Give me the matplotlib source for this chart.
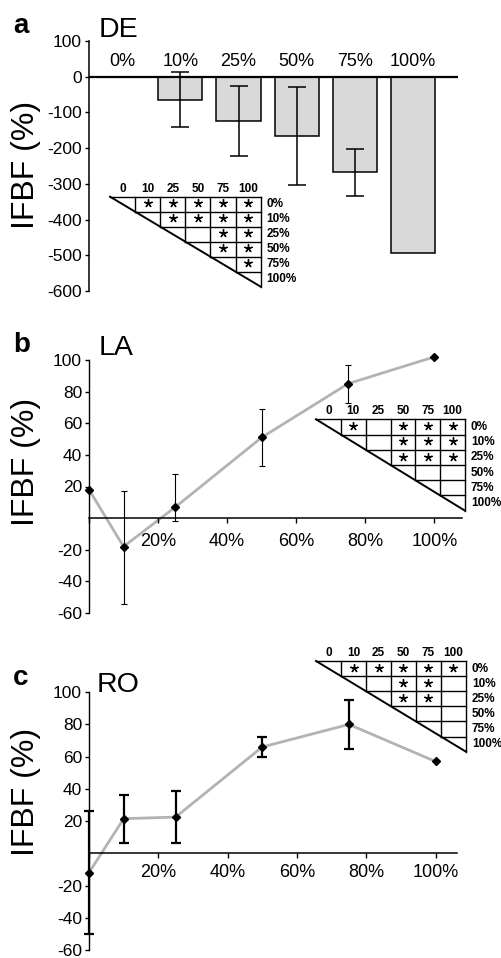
import numpy as np
import matplotlib
matplotlib.use('Agg')
import matplotlib.pyplot as plt

plt.rcParams['font.family'] = ['Liberation Sans', 'DejaVu Sans']
plt.rcParams['axes.unicode_minus'] = False

# ---- data ----
de_labels = ['0%', '10%', '25%', '50%', '75%', '100%']
de_mean = [0, -65, -124, -165, -267, -493]
de_err = [0, 77, 97, 137, 66, 0]

la_x = [0, 10, 25, 50, 75, 100]
la_mean = [18, -18, 7, 51, 85, 102]
la_err_lo = [0, 36, 9, 18, 12, 0]
la_err_hi = [0, 35, 21, 18, 12, 0]

ro_x = [0, 10, 25, 50, 75, 100]
ro_mean = [-12, 21.5, 22.5, 66, 80, 57]
ro_err = [38, 15, 16, 6, 15, 0]

# pairwise significance tables (row = condition, col = comparison)
tab_cols = ['0', '10', '25', '50', '75', '100']
tab_rows = ['0%', '10%', '25%', '50%', '75%', '100%']
de_sig = [[0, 1, 1, 1, 1, 1],
          [0, 0, 1, 1, 1, 1],
          [0, 0, 0, 0, 1, 1],
          [0, 0, 0, 0, 1, 1],
          [0, 0, 0, 0, 0, 1],
          [0, 0, 0, 0, 0, 0]]
la_sig = [[0, 1, 0, 1, 1, 1],
          [0, 0, 0, 1, 1, 1],
          [0, 0, 0, 1, 1, 1],
          [0, 0, 0, 0, 0, 0],
          [0, 0, 0, 0, 0, 0],
          [0, 0, 0, 0, 0, 0]]
ro_sig = [[0, 1, 1, 1, 1, 1],
          [0, 0, 0, 1, 1, 0],
          [0, 0, 0, 1, 1, 0],
          [0, 0, 0, 0, 0, 0],
          [0, 0, 0, 0, 0, 0],
          [0, 0, 0, 0, 0, 0]]

W, H = 501, 958
fig = plt.figure(figsize=(W / 100, H / 100), dpi=100)


def rect(x0, y0, x1, y1):
    # pixel box (top-left origin) -> figure fraction
    return [x0 / W, 1 - y1 / H, (x1 - x0) / W, (y1 - y0) / H]


def ptext(x, y, s, **kw):
    fig.text(x / W, 1 - y / H, s, **kw)


def draw_table(box, sig):
    t = fig.add_axes(rect(*box))
    n = len(tab_cols)
    t.set_xlim(0, n)
    t.set_ylim(n, 0)
    t.axis('off')
    kw = dict(color='black', lw=1.0, clip_on=False, solid_capstyle='projecting')
    t.plot([0, n], [0, 0], **kw)
    t.plot([n, n], [0, n], **kw)
    t.plot([0, n], [0, n], color='black', lw=1.4, clip_on=False)
    for k in range(1, n):
        t.plot([k, k], [0, k], **kw)
        t.plot([k, n], [k, k], **kw)
    for c, lab in enumerate(tab_cols):
        t.text(c + 0.5, -0.33, lab, ha='center', va='baseline',
               fontsize=8.5, fontweight='bold')
    for r, lab in enumerate(tab_rows):
        t.text(n + 0.24, r + 0.5, lab, ha='left', va='center',
               fontsize=8.5, fontweight='bold')
    # significance asterisks
    rr, cc = np.nonzero(np.array(sig))
    t.plot(cc + 0.5, rr + 0.45, linestyle='none', marker=(5, 2, 0),
           color='black', ms=6, mew=1.0, clip_on=False)


def style_line_axes(ax):
    for s in ['top', 'right']:
        ax.spines[s].set_visible(False)
    ax.spines['left'].set_linewidth(1.0)
    ax.spines['bottom'].set_linewidth(1.1)
    ax.spines['bottom'].set_position(('data', 0))
    ax.set_xticks([0, 20, 40, 60, 80, 100])
    ax.set_xticklabels(['', '20%', '40%', '60%', '80%', '100%'])
    ax.set_yticks([-60, -40, -20, 20, 40, 60, 80, 100])
    ax.set_ylim(-60, 100)
    ax.tick_params(axis='y', direction='out', length=3, width=1, labelsize=12.5, pad=2)


# ---- a: DE ----
ax = fig.add_axes(rect(89, 41, 458, 291))
pos = np.arange(len(de_labels))
ax.bar(pos, de_mean, width=0.76, color='#d9d9d9', edgecolor='black', lw=1.1, zorder=2)
m = np.array(de_err) > 0
ax.errorbar(pos[m], np.array(de_mean)[m], yerr=np.array(de_err)[m], fmt='none',
            ecolor='black', elinewidth=1.1, capsize=6.5, capthick=1.1, zorder=3)
ax.axhline(0, color='black', lw=1.6, zorder=4)
ax.set_xlim(-0.57, 5.77)
ax.set_ylim(-600, 100)
for s in ['top', 'right', 'bottom']:
    ax.spines[s].set_visible(False)
ax.spines['left'].set_linewidth(1.1)
ax.set_xticks([])
ax.set_yticks(np.arange(-600, 101, 100))
ax.tick_params(axis='y', direction='out', length=3, width=1, labelsize=12.5, pad=2)
for p, lab in zip(pos, de_labels):
    ax.text(p, 18, lab, ha='center', va='bottom', fontsize=13)
ax.set_ylabel('IFBF (%)', fontsize=23)
ax.yaxis.set_label_coords(41 / W, 1 - 165 / H, transform=fig.transFigure)
draw_table((110, 196.7, 260.7, 286.7), de_sig)
ptext(13, 33, 'a', fontsize=20, fontweight='bold', va='baseline')
ptext(99, 37, 'DE', fontsize=20.5, va='baseline')

# ---- b: LA ----
ax = fig.add_axes(rect(89, 360, 462, 613))
ax.plot(la_x, la_mean, color='#b3b3b3', lw=2.0, zorder=1, clip_on=False)
m = (np.array(la_err_lo) + np.array(la_err_hi)) > 0
ax.errorbar(np.array(la_x)[m], np.array(la_mean)[m],
            yerr=[np.array(la_err_lo)[m], np.array(la_err_hi)[m]], fmt='none',
            ecolor='black', elinewidth=0.8, capsize=2.5, capthick=0.8, zorder=2)
ax.plot(la_x, la_mean, 'D', color='black', ms=4.5, zorder=3, clip_on=False)
ax.set_xlim(0, 108)
style_line_axes(ax)
ax.tick_params(axis='x', direction='out', length=3.5, width=1, labelsize=13, pad=7)
ax.set_ylabel('IFBF (%)', fontsize=23)
ax.yaxis.set_label_coords(41 / W, 1 - 462 / H, transform=fig.transFigure)
draw_table((316, 419.3, 465, 510.7), la_sig)
ptext(13, 352, 'b', fontsize=20, fontweight='bold', va='baseline')
ptext(99, 355, 'LA', fontsize=20.5, va='baseline')

# ---- c: RO ----
ax = fig.add_axes(rect(89, 692.2, 457, 950))
ax.plot(ro_x, ro_mean, color='#b3b3b3', lw=2.0, zorder=1, clip_on=False)
m = np.array(ro_err) > 0
eb = ax.errorbar(np.array(ro_x)[m], np.array(ro_mean)[m], yerr=np.array(ro_err)[m],
                 fmt='none', ecolor='black', elinewidth=1.6, capsize=3.5,
                 capthick=1.6, zorder=2)
for art in eb.lines[1] + eb.lines[2]:
    art.set_clip_on(False)
ax.plot(ro_x, ro_mean, 'D', color='black', ms=4.5, zorder=3, clip_on=False)
ax.set_xlim(0, 106.2)
style_line_axes(ax)
ax.tick_params(axis='x', direction='out', length=3.5, width=1, labelsize=13, pad=4)
ax.set_ylabel('IFBF (%)', fontsize=23)
ax.yaxis.set_label_coords(41 / W, 1 - 792 / H, transform=fig.transFigure)
draw_table((316, 661, 466, 751.7), ro_sig)
ptext(13, 685, 'c', fontsize=20, fontweight='bold', va='baseline')
ptext(97, 692, 'RO', fontsize=20.5, va='baseline')

fig.savefig('out.png', dpi=100)
